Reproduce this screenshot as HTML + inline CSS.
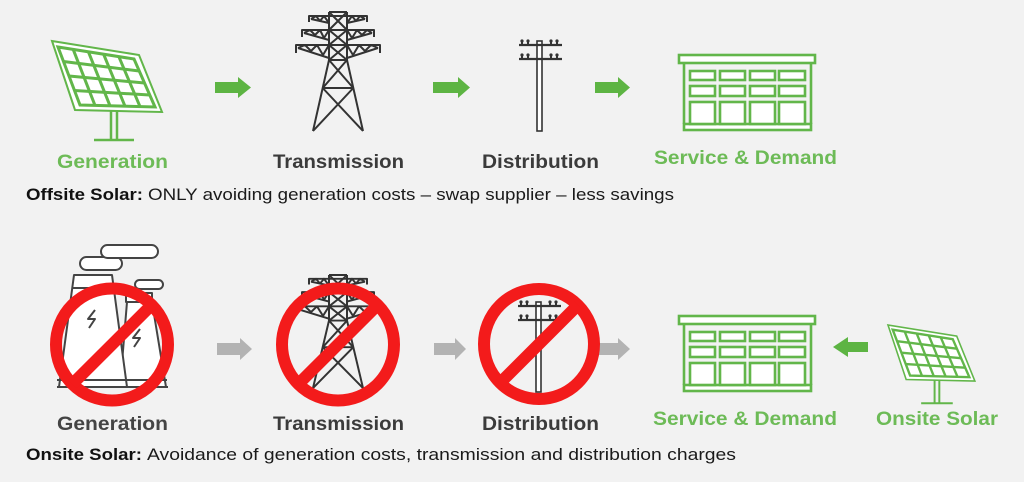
<!DOCTYPE html>
<html><head><meta charset="utf-8"><style>
html,body{margin:0;padding:0;background:#f2f2f2;}
svg{display:block;}
text{font-family:"Liberation Sans",Arial,sans-serif;}
</style></head><body>
<svg width="1024" height="482" viewBox="0 0 1024 482" xmlns="http://www.w3.org/2000/svg">
<defs>
  <g id="panel">
    <polygon points="52,41 139,55 162,112 75,110" fill="#fff" stroke="#62b64a" stroke-width="2"/>
    <polygon points="58,47 134,59 155,107 80,105" fill="#fff" stroke="#62b64a" stroke-width="3"/>
    <g stroke="#62b64a" stroke-width="3">
      <line x1="73.2" y1="49.4" x2="95" y2="105.4"/>
      <line x1="88.4" y1="51.8" x2="110" y2="105.8"/>
      <line x1="103.6" y1="54.2" x2="125" y2="106.2"/>
      <line x1="118.8" y1="56.6" x2="140" y2="106.6"/>
      <line x1="63.5" y1="61.5" x2="139.25" y2="71"/>
      <line x1="69" y1="76" x2="144.5" y2="83"/>
      <line x1="74.5" y1="90.5" x2="149.75" y2="95"/>
    </g>
    <g stroke="#62b64a" stroke-width="2.5" fill="none">
      <line x1="111" y1="111" x2="111" y2="140"/>
      <line x1="117" y1="111" x2="117" y2="140"/>
      <line x1="94" y1="140" x2="134" y2="140"/>
    </g>
  </g>
  <g id="tower" stroke="#333" stroke-width="2" fill="none" stroke-linejoin="round">
    <!-- mast -->
    <line x1="329" y1="12" x2="329" y2="60"/>
    <line x1="347" y1="12" x2="347" y2="60"/>
    <line x1="329" y1="12" x2="347" y2="12"/>
    <path d="M329,12 L347,30 M347,12 L329,30 M329,30 L347,45 M347,30 L329,45 M329,45 L347,60 M347,45 L329,60"/>
    <!-- arm 1 -->
    <path d="M309,22 L309,16 L367,16 L367,22"/>
    <path d="M311,19 L329,23 M347,23 L365,19"/>
    <path d="M311,19 L316,16 L320,21 L324,16 L329,23 M347,23 L352,16 L356,21 L360,16 L365,19"/>
    <!-- arm 2 -->
    <path d="M302,37 L302,30 L374,30 L374,37"/>
    <path d="M304,33 L329,40 M347,40 L372,33"/>
    <path d="M304,33 L310,30 L315,35 L320,30 L324,38 L329,30 M347,30 L352,38 L357,30 L362,35 L367,30 L372,33"/>
    <!-- arm 3 -->
    <path d="M296,53 L296,45 L380,45 L380,53"/>
    <path d="M298,48 L329,58 M347,58 L378,48"/>
    <path d="M298,48 L305,45 L311,51 L317,45 L323,55 L329,45 M347,45 L353,55 L359,45 L365,51 L371,45 L378,48"/>
    <!-- legs -->
    <line x1="329" y1="60" x2="313" y2="131"/>
    <line x1="347" y1="60" x2="363" y2="131"/>
    <line x1="329" y1="60" x2="347" y2="60"/>
    <line x1="322.7" y1="88" x2="353.3" y2="88"/>
    <path d="M329,60 L353.3,88 M347,60 L322.7,88 M322.7,88 L363,131 M353.3,88 L313,131"/>
  </g>
  <g id="pole">
    <rect x="537" y="41" width="5" height="90" fill="#fff" stroke="#333" stroke-width="1.6"/>
    <g stroke="#333" stroke-width="2.2">
      <line x1="519" y1="45" x2="562" y2="45"/>
      <line x1="519" y1="59" x2="562" y2="59"/>
      <path d="M522,45 L522,41 M528,45 L528,41 M551,45 L551,41 M557,45 L557,41 M522,59 L522,55 M528,59 L528,55 M551,59 L551,55 M557,59 L557,55" stroke-width="2"/>
    </g>
    <g fill="#333">
      <circle cx="522" cy="41" r="1.6"/><circle cx="528" cy="41" r="1.6"/><circle cx="551" cy="41" r="1.6"/><circle cx="557" cy="41" r="1.6"/>
      <circle cx="522" cy="55" r="1.6"/><circle cx="528" cy="55" r="1.6"/><circle cx="551" cy="55" r="1.6"/><circle cx="557" cy="55" r="1.6"/>
    </g>
  </g>
  <g id="building" stroke="#62b64a" stroke-width="2.6" fill="none">
    <rect x="679" y="55" width="136" height="8" fill="#fff"/>
    <line x1="684" y1="63" x2="684" y2="124"/>
    <line x1="811" y1="63" x2="811" y2="124"/>
    <rect x="684" y="124" width="127" height="6" fill="#fff"/>
    <g fill="#fff">
      <rect x="690" y="71" width="25" height="9"/><rect x="720" y="71" width="25" height="9"/><rect x="750" y="71" width="25" height="9"/><rect x="779" y="71" width="26" height="9"/>
      <rect x="690" y="86" width="25" height="10"/><rect x="720" y="86" width="25" height="10"/><rect x="750" y="86" width="25" height="10"/><rect x="779" y="86" width="26" height="10"/>
      <rect x="690" y="102" width="25" height="22"/><rect x="720" y="102" width="25" height="22"/><rect x="750" y="102" width="25" height="22"/><rect x="779" y="102" width="26" height="22"/>
    </g>
  </g>
</defs>

<rect x="0" y="0" width="1024" height="482" fill="#f2f2f2"/>

<!-- ===== TOP ROW ===== -->
<use href="#panel"/>
<use href="#tower"/>
<use href="#pole"/>
<use href="#building"/>

<g fill="#5db443">
  <polygon points="215,82 238,82 238,77 251,87.5 238,98 238,93 215,93"/>
  <polygon points="433,82 458,82 458,77 470,87.5 458,98 458,93 433,93"/>
  <polygon points="595,82 618,82 618,77 630,87.5 618,98 618,93 595,93"/>
</g>

<g font-weight="bold" font-size="19">
  <text x="57" y="168" fill="#6dbb57" textLength="111" lengthAdjust="spacingAndGlyphs">Generation</text>
  <text x="273" y="168" fill="#3b3b3b" textLength="131" lengthAdjust="spacingAndGlyphs">Transmission</text>
  <text x="482" y="168" fill="#3b3b3b" textLength="117" lengthAdjust="spacingAndGlyphs">Distribution</text>
  <text x="654" y="164" fill="#6dbb57" textLength="183" lengthAdjust="spacingAndGlyphs">Service &amp; Demand</text>
</g>
<text x="26" y="200" font-size="16.5" font-weight="bold" fill="#111" textLength="117" lengthAdjust="spacingAndGlyphs">Offsite Solar:</text>
<text x="148" y="200" font-size="16.5" fill="#1a1a1a" textLength="526" lengthAdjust="spacingAndGlyphs">ONLY avoiding generation costs – swap supplier – less savings</text>

<!-- ===== BOTTOM ROW ===== -->
<!-- power plant -->
<g stroke="#444" stroke-width="2" stroke-linejoin="round">
  <rect x="80" y="257" width="42" height="13" rx="6.5" fill="#fff"/>
  <rect x="101" y="245" width="57" height="13" rx="6.5" fill="#fff"/>
  <rect x="135" y="280" width="28" height="9" rx="4.5" fill="#fff"/>
  <polygon points="126,293 152,293 152,302 166,387 120,387 127,302 126,302" fill="#fff"/>
  <line x1="127" y1="302" x2="152" y2="302"/>
  <polygon points="74,275 112,275 127,387 59,387" fill="#fff"/>
  <line x1="72.3" y1="288" x2="113.7" y2="288"/>
  <line x1="57" y1="380" x2="167" y2="380"/>
  <line x1="57" y1="387" x2="168" y2="387"/>
  <path d="M95,310 L88,319 L95,319 L89,328" fill="none"/>
  <path d="M140,329 L133,338 L140,338 L134,347" fill="none"/>
</g>

<g transform="translate(0,275) scale(1,0.95) translate(0,-12)"><use href="#tower"/></g>
<g transform="translate(-1,261)"><use href="#pole"/></g>
<g transform="translate(0,261)"><use href="#building"/></g>
<g transform="translate(846.9,292.6) scale(0.79)"><use href="#panel"/></g>

<!-- gray arrows -->
<g fill="#b3b3b3">
  <polygon points="217,343 240,343 240,338 252,349 240,360 240,355 217,355"/>
  <polygon points="434,343 455,343 455,338 466,349 455,360 455,355 434,355"/>
  <polygon points="594,343 618,343 618,338 630,349 618,360 618,355 594,355"/>
</g>
<!-- green left arrow -->
<polygon points="868,342 848,342 848,337 833,347 848,357 848,352 868,352" fill="#5db443"/>

<!-- red no signs -->
<g stroke="#f31b1b" stroke-width="12" fill="none">
  <circle cx="112" cy="344.5" r="56"/>
  <line x1="72.4" y1="384" x2="151.6" y2="305"/>
  <circle cx="338" cy="344.5" r="56"/>
  <line x1="298.4" y1="384" x2="377.6" y2="305"/>
  <circle cx="539" cy="344" r="55"/>
  <line x1="500" y1="383" x2="578" y2="305"/>
</g>

<g font-weight="bold" font-size="19">
  <text x="57" y="430" fill="#444" textLength="111" lengthAdjust="spacingAndGlyphs">Generation</text>
  <text x="273" y="430" fill="#3b3b3b" textLength="131" lengthAdjust="spacingAndGlyphs">Transmission</text>
  <text x="482" y="430" fill="#3b3b3b" textLength="117" lengthAdjust="spacingAndGlyphs">Distribution</text>
  <text x="653" y="425" fill="#6dbb57" textLength="184" lengthAdjust="spacingAndGlyphs">Service &amp; Demand</text>
  <text x="876" y="425" fill="#6dbb57" textLength="122" lengthAdjust="spacingAndGlyphs">Onsite Solar</text>
</g>
<text x="26" y="460" font-size="16.5" font-weight="bold" fill="#111" textLength="116" lengthAdjust="spacingAndGlyphs">Onsite Solar:</text>
<text x="147" y="460" font-size="16.5" fill="#1a1a1a" textLength="589" lengthAdjust="spacingAndGlyphs">Avoidance of generation costs, transmission and distribution charges</text>
</svg>
</body></html>
